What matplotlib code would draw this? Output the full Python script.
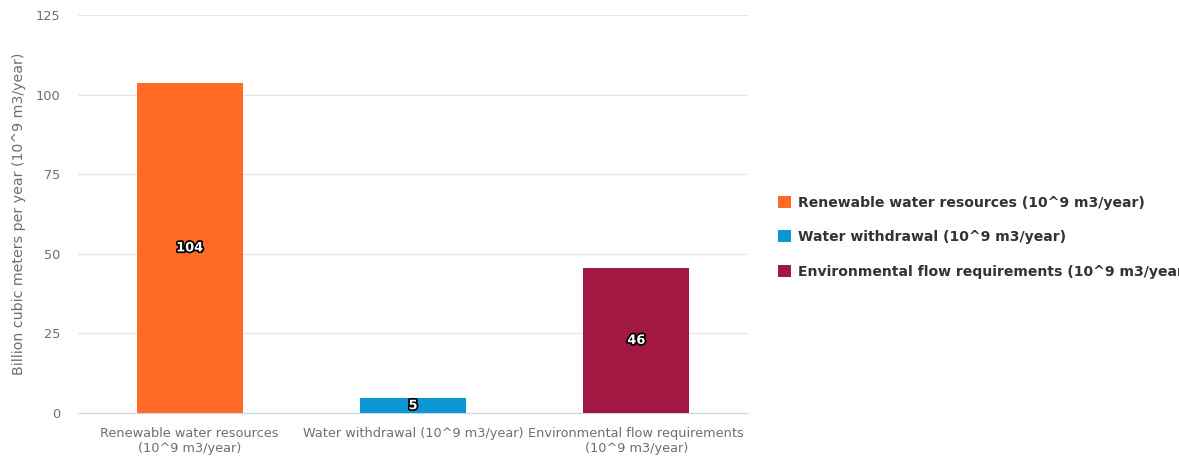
import matplotlib.pyplot as plt
import matplotlib.patheffects as pe
from matplotlib.patches import Patch

categories = ["Renewable water resources\n(10^9 m3/year)",
              "Water withdrawal (10^9 m3/year)",
              "Environmental flow requirements\n(10^9 m3/year)"]
legend_labels = ["Renewable water resources (10^9 m3/year)",
                 "Water withdrawal (10^9 m3/year)",
                 "Environmental flow requirements (10^9 m3/year)"]
values = [103.7, 4.6, 45.6]
colors = ["#ff6a24", "#0d96d4", "#a31842"]
y_ticks = [0, 25, 50, 75, 100, 125]

fig = plt.figure(figsize=(11.79, 4.57), dpi=100)
ax = fig.add_axes([0.0662, 0.0963, 0.5682, 0.8709])

x = range(len(values))
ax.bar(x, values, width=0.475, color=colors, zorder=3)

for xi, v in zip(x, values):
    ax.text(xi, v / 2, f"{round(v)}", ha="center", va="center",
            fontsize=9.3, fontweight="bold", color="white", zorder=4,
            path_effects=[pe.withStroke(linewidth=2.5, foreground="black")])

ax.set_xlim(-0.5, 2.5)
ax.set_ylim(0, 125)
ax.set_yticks(y_ticks)
ax.set_xticks(list(x))
ax.set_xticklabels(categories)
ax.tick_params(axis="both", length=0, labelsize=9.3, colors="#6e6e6e")
ax.tick_params(axis="x", pad=10)
ax.tick_params(axis="y", pad=13)
ax.grid(axis="y", color="#e6e6e6", linewidth=1, zorder=0)
for side in ["top", "right", "left"]:
    ax.spines[side].set_visible(False)
ax.spines["bottom"].set_color("#ccd6eb")
ax.set_ylabel("Billion cubic meters per year (10^9 m3/year)", fontsize=10.2,
              color="#6e6e6e", labelpad=7)

handles = [Patch(facecolor=c, edgecolor="none") for c in colors]
fig.legend(handles, legend_labels, loc="center left", bbox_to_anchor=(0.649, 0.481),
           frameon=False, prop={"weight": "bold", "size": 10.1}, labelcolor="#333333",
           handlelength=0.95, handleheight=0.95, handletextpad=0.5, labelspacing=1.45)

fig.savefig("out.png", dpi=100)
